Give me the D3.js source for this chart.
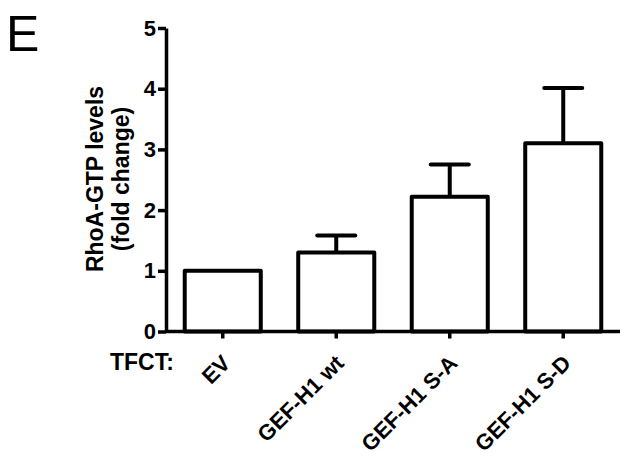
<!doctype html>
<html lang="en">
<head>
<meta charset="UTF-8">
<title>RhoA-GTP levels</title>
<script src="https://d3js.org/d3.v7.min.js"></script>
<style>
    body { margin: 0; background: #fff; }
    text { font-family: "Liberation Sans", Arial, sans-serif; fill: #000; }
    .axis path, .axis line { stroke: #000; stroke-width: 3.5px; }
    .axis text { font-size: 22px; font-weight: bold; }
    .bar { fill: #fff; stroke: #000; stroke-width: 4px; stroke-linejoin: round; }
    .err { stroke: #000; stroke-width: 4px; fill: none; }
</style>
</head>
<body>
<script>
// data
const groups = ['EV', 'GEF-H1 wt', 'GEF-H1 S-A', 'GEF-H1 S-D'];
const means  = [1.0, 1.30, 2.22, 3.10];
const sems   = [0, 0.28, 0.53, 0.91];
const yTicks = [0, 1, 2, 3, 4, 5];

const width = 634, height = 462;

const svg = d3.select('body').append('svg')
    .attr('width', width)
    .attr('height', height);

const x = d3.scaleBand()
    .domain(groups)
    .range([166, 620])
    .paddingInner(0.33)
    .paddingOuter(0.165);

const y = d3.scaleLinear()
    .domain([0, 5])
    .range([331.5, 28]);

// panel letter
svg.append('text')
    .attr('x', 6)
    .attr('y', 51)
    .style('font-size', '50px')
    .text('E');

// bars
svg.selectAll('.bar')
    .data(groups)
    .enter().append('rect')
    .attr('class', 'bar')
    .attr('x', d => x(d))
    .attr('y', (d, i) => y(means[i]))
    .attr('width', x.bandwidth())
    .attr('height', (d, i) => y(0) - y(means[i]));

// error bars (upper only)
const capW = x.bandwidth() * 0.5;
groups.forEach(function(g, i) {
    if (!sems[i]) return;
    const cx = x(g) + x.bandwidth() / 2;
    svg.append('line').attr('class', 'err')
        .attr('x1', cx).attr('x2', cx)
        .attr('y1', y(means[i])).attr('y2', y(means[i] + sems[i]));
    svg.append('line').attr('class', 'err')
        .attr('x1', cx - capW / 2).attr('x2', cx + capW / 2)
        .attr('y1', y(means[i] + sems[i])).attr('y2', y(means[i] + sems[i]))
        .attr('stroke-linecap', 'round');
});

// y axis
svg.append('g')
    .attr('class', 'axis')
    .attr('transform', 'translate(166,0)')
    .call(d3.axisLeft(y).tickValues(yTicks).tickFormat(d3.format('d'))
        .tickSize(8).tickSizeOuter(0).tickPadding(2));

// x axis
const xAxis = svg.append('g')
    .attr('class', 'axis')
    .attr('transform', 'translate(0,' + y(0) + ')')
    .call(d3.axisBottom(x).tickSize(7).tickSizeOuter(0));
xAxis.select('.domain').attr('d', 'M166,0H620');
xAxis.selectAll('text')
    .style('font-size', '22px')
    .attr('text-anchor', 'end')
    .attr('dy', null)
    .attr('y', 0)
    .attr('transform', 'translate(9,33) rotate(-45)');

svg.append('text')
    .attr('x', 110)
    .attr('y', 369.5)
    .style('font-size', '23px')
    .style('font-weight', 'bold')
    .text('TFCT:');

// y label
const yl = svg.append('text')
    .attr('transform', 'translate(103,179) rotate(-90)')
    .attr('text-anchor', 'middle')
    .style('font-size', '23px')
    .style('font-weight', 'bold');
yl.append('tspan').attr('x', 0).attr('y', 0).text('RhoA-GTP levels');
yl.append('tspan').attr('x', 0).attr('y', 26).text('(fold change)');
</script>
</body>
</html>
